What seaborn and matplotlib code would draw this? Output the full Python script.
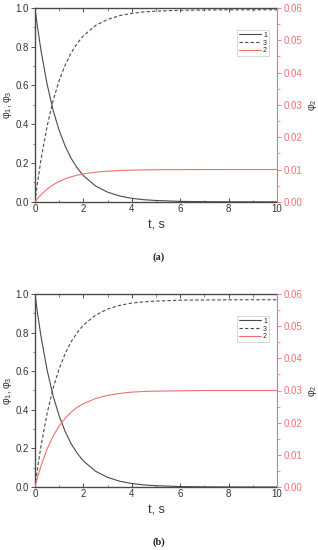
import matplotlib
matplotlib.use("Agg")
import matplotlib.pyplot as plt
import numpy as np
import pandas as pd
import seaborn as sns
from matplotlib.ticker import MultipleLocator
from matplotlib.lines import Line2D

sns.set_style("white")
plt.rcParams['font.family'] = ['Liberation Sans', 'DejaVu Sans']

# time axis, s
t = [0, 0.1, 0.25, 0.5, 0.75, 1, 1.25, 1.5, 1.75, 2, 2.5, 3, 3.5, 4, 4.5, 5, 6, 7, 8, 9, 10]

# panel (a)
phi1_a = [1.0, 0.905, 0.779, 0.607, 0.472, 0.368, 0.287, 0.223, 0.174, 0.135, 0.082, 0.050,
          0.030, 0.018, 0.011, 0.007, 0.0025, 0.0009, 0.0003, 0.0001, 0.0]
phi3_a = [0.0, 0.094, 0.219, 0.389, 0.523, 0.626, 0.706, 0.769, 0.818, 0.856, 0.909, 0.940,
          0.960, 0.972, 0.979, 0.983, 0.9875, 0.989, 0.9897, 0.9899, 0.99]
phi2_a = [0.0, 0.00095, 0.00221, 0.00393, 0.00528, 0.00632, 0.00713, 0.00777, 0.00826, 0.00865,
          0.00918, 0.0095, 0.0097, 0.00982, 0.00989, 0.00993, 0.00997, 0.00999, 0.01, 0.01, 0.01]

# panel (b)
phi1_b = phi1_a
phi3_b = [0.0, 0.092, 0.214, 0.381, 0.512, 0.613, 0.692, 0.754, 0.801, 0.839, 0.890, 0.922,
          0.941, 0.953, 0.959, 0.963, 0.968, 0.969, 0.9697, 0.9699, 0.97]
phi2_b = [0.0, 0.00285, 0.00663, 0.0118, 0.0158, 0.0190, 0.0214, 0.0233, 0.0248, 0.0259,
          0.0275, 0.0285, 0.0291, 0.0295, 0.0297, 0.0298, 0.0299, 0.03, 0.03, 0.03, 0.03]

grey = '#4a4a4a'
red = '#f07070'

fig = plt.figure(figsize=(3.18, 5.5), dpi=100)
ax_a = fig.add_axes([0.110, 0.633, 0.761, 0.3527])
ax_b = fig.add_axes([0.110, 0.1145, 0.761, 0.351])


def panel(ax, p1, p3, p2, letter, letter_y):
    df = pd.DataFrame({'t': t, 'p1': p1, 'p3': p3, 'p2': p2})
    sns.lineplot(data=df, x='t', y='p1', ax=ax, color=grey, lw=0.8)
    sns.lineplot(data=df, x='t', y='p3', ax=ax, color=grey, lw=0.8, linestyle=(0, (3, 2)))
    ax2 = ax.twinx()
    sns.lineplot(data=df, x='t', y='p2', ax=ax2, color=red, lw=0.8)

    ax.set_xlim(0, 10)
    ax.set_ylim(0, 1.0)
    ax2.set_ylim(0, 0.06)
    ax.xaxis.set_major_locator(MultipleLocator(2))
    ax.xaxis.set_minor_locator(MultipleLocator(1))
    ax.yaxis.set_major_locator(MultipleLocator(0.2))
    ax.yaxis.set_minor_locator(MultipleLocator(0.1))
    ax2.yaxis.set_major_locator(MultipleLocator(0.01))
    ax2.yaxis.set_minor_locator(MultipleLocator(0.005))
    ax.set_yticks(np.arange(0, 1.01, 0.2))
    ax.set_yticklabels(['%.1f' % v for v in np.arange(0, 1.01, 0.2)])
    ax2.set_yticks(np.arange(0, 0.061, 0.01))
    ax2.set_yticklabels(['%.2f' % v for v in np.arange(0, 0.061, 0.01)])

    ax.tick_params(axis='both', which='major', direction='out', length=3, width=0.6,
                   labelsize=7, colors='#333333', pad=1.5, bottom=True, left=True)
    ax.tick_params(axis='both', which='minor', direction='out', length=1.8, width=0.5,
                   colors=grey, bottom=True, left=True)
    ax.tick_params(axis='x', which='both', top=True, direction='in')
    ax.tick_params(axis='x', which='both', bottom=True)
    ax2.tick_params(axis='y', which='major', direction='out', length=3, width=0.6,
                    labelsize=7, colors=red, pad=1.5, right=True)
    ax2.tick_params(axis='y', which='minor', direction='out', length=1.8, width=0.5,
                    colors=red, right=True)

    for s in ['left', 'bottom', 'top']:
        ax.spines[s].set_color(grey)
        ax.spines[s].set_linewidth(1.0)
    ax2.spines['right'].set_color(red)
    ax2.spines['right'].set_linewidth(0.8)
    for s in ['left', 'bottom', 'top']:
        ax2.spines[s].set_visible(False)
    ax.spines['right'].set_visible(False)

    ax.set_xlabel('t, s', fontsize=9, color='#333333', labelpad=4)
    ax.set_ylabel(r'$\mathregular{\varphi_1,\varphi_3}$', fontsize=7.5, color='#333333', labelpad=1)
    ax2.set_ylabel(r'$\mathregular{\varphi_2}$', fontsize=7.5, color='#333333', labelpad=2.5)

    handles = [Line2D([], [], color=grey, lw=0.8),
               Line2D([], [], color=grey, lw=0.8, linestyle=(0, (3, 2))),
               Line2D([], [], color=red, lw=0.8)]
    leg = ax.legend(handles, ['1', '3', '2'], loc='upper left', bbox_to_anchor=(0.835, 0.885),
                    fontsize=5, frameon=True, fancybox=False, handlelength=3.2,
                    handletextpad=0.3, borderpad=0.25, labelspacing=0.1, borderaxespad=0)
    leg.get_frame().set_edgecolor('#bbbbbb')
    leg.get_frame().set_linewidth(0.5)

    fig.text(0.5, letter_y, letter, ha='center', va='center', fontsize=7.5,
             family=['Liberation Serif', 'DejaVu Serif'], weight='bold', color='#222222')


panel(ax_a, phi1_a, phi3_a, phi2_a, '(a)', 1 - 257 / 550)
panel(ax_b, phi1_b, phi3_b, phi2_b, '(b)', 1 - 542 / 550)

fig.savefig('out.png', dpi=100)
